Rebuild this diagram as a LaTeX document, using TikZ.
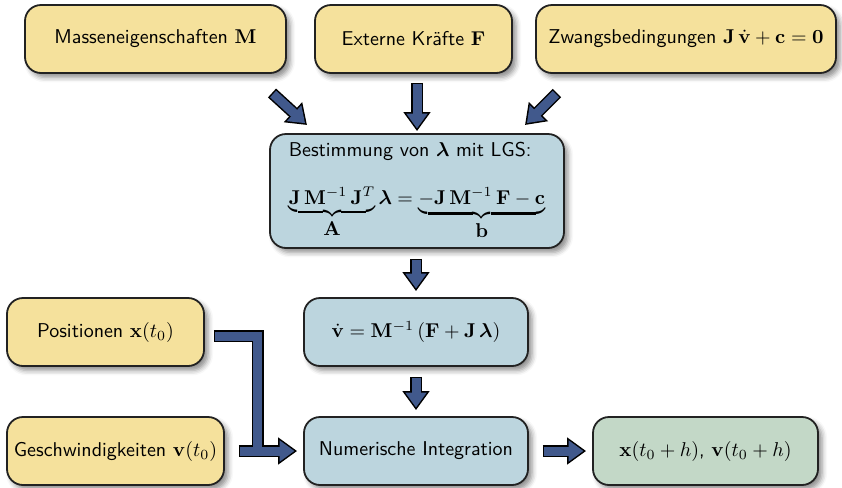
\documentclass[tikz,border=0pt]{standalone}
\usepackage{amsmath}
\usetikzlibrary{arrows.meta,shadows.blur,calc}
\definecolor{boxyellow}{HTML}{F5E19C}
\definecolor{boxblue}{HTML}{BCD5DE}
\definecolor{boxgreen}{HTML}{C3D8C7}
\definecolor{arrowblue}{HTML}{41598C}
\definecolor{edgecol}{HTML}{222222}
\tikzset{
  box/.style={draw=edgecol, line width=0.9pt, rounded corners=8pt, font=\sffamily,
    inner sep=0pt, blur shadow={shadow xshift=2pt, shadow yshift=-2.2pt, shadow blur radius=2.5pt, shadow opacity=45}},
  ybox/.style={box, fill=boxyellow},
  bbox/.style={box, fill=boxblue},
  gbox/.style={box, fill=boxgreen},
  arrowout/.style={draw=black, line width=6pt, line join=miter, -{Triangle[width=13pt,length=9.5pt]}},
  arrowin/.style={draw=arrowblue, line width=4.5pt, line join=miter, -{Triangle[width=10.2pt,length=7.4pt]},
    shorten <=0.75pt, shorten >=1.33pt},
}
\begin{document}
\begin{tikzpicture}[x=0.5pt,y=-0.5pt]
\useasboundingbox (0,0) rectangle (842,488);
% boxes
\node[ybox, minimum width=130.5pt, minimum height=34pt] (m) at (155.5,39) {Masseneigenschaften $\mathbf{M}$};
\node[ybox, minimum width=98.5pt, minimum height=34pt] (f) at (413.5,39) {Externe Kr\"afte $\mathbf{F}$};
\node[ybox, minimum width=150pt, minimum height=34pt] (z) at (686,39) {Zwangsbedingungen $\mathbf{J}\,\dot{\mathbf{v}}+\mathbf{c}=\mathbf{0}$};
\node[bbox, minimum width=147pt, minimum height=57pt, align=left] (b) at (417,191)
  {Bestimmung von $\boldsymbol{\lambda}$ mit LGS:\\[12pt]
   $\underbrace{\mathbf{J}\,\mathbf{M}^{-1}\,\mathbf{J}^T}_{\textstyle\mathbf{A}}\boldsymbol{\lambda}=\underbrace{-\mathbf{J}\,\mathbf{M}^{-1}\,\mathbf{F}-\mathbf{c}}_{\textstyle\mathbf{b}}$};
\node[bbox, minimum width=112pt, minimum height=34pt] (v) at (416,332)
  {$\dot{\mathbf{v}}=\mathbf{M}^{-1}\,(\mathbf{F}+\mathbf{J}\,\boldsymbol{\lambda})$};
\node[bbox, minimum width=112pt, minimum height=34pt] (n) at (416,451) {Numerische Integration};
\node[gbox, minimum width=112.5pt, minimum height=34pt] (r) at (705.5,451) {$\mathbf{x}(t_0+h)$, $\mathbf{v}(t_0+h)$};
\node[ybox, minimum width=98.5pt, minimum height=34pt] (p) at (105.5,332) {Positionen $\mathbf{x}(t_0)$};
\node[ybox, minimum width=108.5pt, minimum height=34pt] (g) at (115.5,451) {Geschwindigkeiten $\mathbf{v}(t_0)$};
% arrow end points
\coordinate (m1) at (272,93);
\coordinate (b1) at (307,125);
\coordinate (z1) at (557,93);
\coordinate (b2) at (525,125);
\coordinate (f1) at ($(b.north |- f.south)+(0,-4.5pt)$);
\coordinate (b3) at ($(b.north)+(0,1pt)$);
\coordinate (b4) at ($(v.north |- b.south)+(0,-5pt)$);
\coordinate (v1) at ($(v.north)+(0,3pt)$);
\coordinate (v2) at ($(v.south)+(0,-5pt)$);
\coordinate (n1) at ($(n.north)+(0,3pt)$);
\coordinate (n2) at ($(n.east)+(7pt,0)$);
\coordinate (r1) at ($(r.west)+(-3pt,0)$);
\coordinate (g1) at ($(g.east)+(7pt,0)$);
\coordinate (n3) at ($(n.west)+(-3pt,0)$);
\coordinate (p1) at ($(p.east)+(4.5pt,-2pt)$);
\coordinate (lc) at (257.5,451);
% outer layer
\draw[arrowout] (m1) -- (b1);
\draw[arrowout] (z1) -- (b2);
\draw[arrowout] (f1) -- (b3);
\draw[arrowout] (b4) -- (v1);
\draw[arrowout] (v2) -- (n1);
\draw[arrowout] (n2) -- (r1);
\draw[arrowout] (g1) -- (n3);
\draw[arrowout, -] (p1) -| (lc);
% inner layer
\draw[arrowin] (m1) -- (b1);
\draw[arrowin] (z1) -- (b2);
\draw[arrowin] (f1) -- (b3);
\draw[arrowin] (b4) -- (v1);
\draw[arrowin] (v2) -- (n1);
\draw[arrowin] (n2) -- (r1);
\draw[arrowin] (g1) -- (n3);
\draw[arrowin, -] (p1) -| (lc);
\end{tikzpicture}
\end{document}
